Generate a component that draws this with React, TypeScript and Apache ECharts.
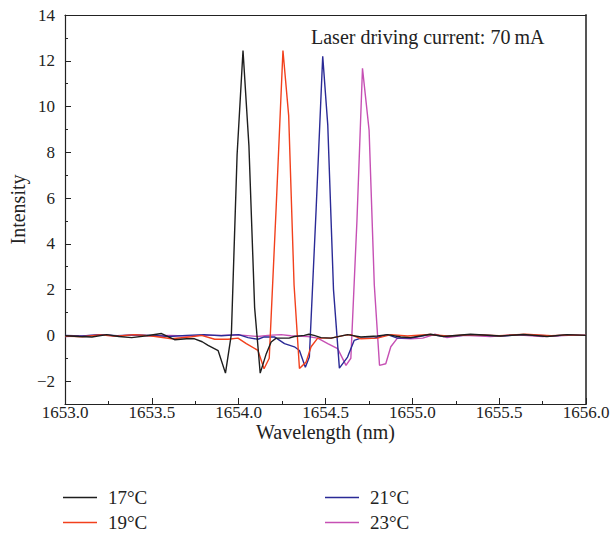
import React, { useEffect, useRef } from "react";
import * as echarts from "echarts";

const seriesNames = ["17°C", "19°C", "21°C", "23°C"];
const seriesColors = ["#1e1e1e", "#f2401c", "#2a2a96", "#c650b4"];

const s17: number[][] = [
  [1653.0, -0.02], [1653.08, -0.05], [1653.155, -0.07], [1653.24, 0.03], [1653.31, -0.05],
  [1653.384, -0.1], [1653.47, -0.02], [1653.556, 0.08], [1653.631, -0.19], [1653.7, -0.15],
  [1653.746, -0.15], [1653.79, -0.28], [1653.824, -0.44], [1653.882, -0.67], [1653.924, -1.65],
  [1653.958, 0.05], [1653.991, 7.9], [1654.025, 12.45], [1654.059, 8.3], [1654.092, 1.2],
  [1654.124, -1.65], [1654.159, -0.8], [1654.187, -0.29], [1654.216, -0.12], [1654.29, -0.12],
  [1654.321, -0.05], [1654.378, 0.0], [1654.405, 0.05], [1654.434, 0.0], [1654.474, -0.1],
  [1654.532, -0.12], [1654.627, 0.03], [1654.704, -0.07], [1654.799, -0.03], [1654.857, 0.03],
  [1654.933, -0.07], [1654.99, -0.1], [1655.105, 0.05], [1655.18, -0.05], [1655.335, 0.05],
  [1655.507, -0.03], [1655.639, 0.04], [1655.776, -0.05], [1655.891, 0.03], [1656.0, 0.0],
];

const s19: number[][] = [
  [1653.0, -0.03], [1653.1, -0.06], [1653.2, 0.02], [1653.3, -0.04], [1653.4, 0.03],
  [1653.5, -0.03], [1653.614, -0.15], [1653.729, -0.06], [1653.786, 0.0], [1653.862, -0.17],
  [1653.939, -0.17], [1653.996, -0.12], [1654.044, -0.36], [1654.111, -0.66], [1654.146, -1.46],
  [1654.176, -1.0], [1654.216, 5.6], [1654.255, 12.45], [1654.288, 9.6], [1654.319, 2.2],
  [1654.35, -1.45], [1654.388, -1.17], [1654.417, -0.5], [1654.455, -0.12], [1654.532, -0.12],
  [1654.608, 0.0], [1654.646, 0.03], [1654.704, -0.15], [1654.799, -0.12], [1654.876, 0.03],
  [1654.972, -0.03], [1655.1, 0.04], [1655.2, -0.03], [1655.35, 0.03], [1655.5, -0.02],
  [1655.65, 0.05], [1655.8, -0.02], [1655.9, 0.02], [1656.0, 0.0],
];

const s21: number[][] = [
  [1653.0, 0.0], [1653.1, -0.03], [1653.2, 0.03], [1653.3, -0.02], [1653.4, 0.02],
  [1653.5, 0.0], [1653.6, -0.05], [1653.7, 0.0], [1653.8, 0.03], [1653.9, -0.02],
  [1654.0, 0.03], [1654.054, -0.1], [1654.111, -0.17], [1654.147, -0.07], [1654.206, -0.07],
  [1654.264, -0.36], [1654.321, -0.5], [1654.35, -0.66], [1654.384, -1.39], [1654.407, -0.95],
  [1654.446, 5.5], [1654.484, 12.2], [1654.513, 9.2], [1654.546, 2.0], [1654.58, -1.43],
  [1654.627, -0.95], [1654.665, -0.22], [1654.704, -0.12], [1654.78, -0.12], [1654.857, 0.03],
  [1654.914, -0.12], [1654.99, -0.12], [1655.1, 0.03], [1655.2, -0.05], [1655.35, 0.03],
  [1655.5, -0.03], [1655.65, 0.03], [1655.8, -0.03], [1655.9, 0.02], [1656.0, 0.0],
];

const s23: number[][] = [
  [1653.0, -0.05], [1653.1, -0.03], [1653.2, 0.02], [1653.3, -0.03], [1653.4, 0.02],
  [1653.5, -0.03], [1653.6, 0.0], [1653.7, -0.03], [1653.8, 0.0], [1653.9, 0.0],
  [1654.0, 0.02], [1654.111, -0.05], [1654.168, 0.0], [1654.245, 0.03], [1654.3, -0.02],
  [1654.398, -0.05], [1654.455, -0.12], [1654.513, -0.36], [1654.57, -0.58], [1654.618, -1.31],
  [1654.646, -1.0], [1654.681, 5.0], [1654.713, 11.67], [1654.751, 8.97], [1654.781, 2.2],
  [1654.811, -1.31], [1654.847, -1.24], [1654.876, -0.5], [1654.914, -0.12], [1654.99, -0.15],
  [1655.06, -0.12], [1655.13, 0.05], [1655.2, -0.1], [1655.3, 0.0], [1655.45, -0.05],
  [1655.6, 0.02], [1655.75, -0.05], [1655.9, 0.0], [1656.0, 0.0],
];

const allSeries = [s17, s19, s21, s23];
const yMajorTicks = [-2, 0, 2, 4, 6, 8, 10, 12, 14];
const yMinorTicks = [-3, -1, 1, 3, 5, 7, 9, 11, 13];
const annotation = "Laser driving current: 70\u2009mA";

const FONT = "Liberation Serif";
const AXIS_COLOR = "#222";

const legendPos = [
  { left: 58, top: 483 },
  { left: 58, top: 508 },
  { left: 320, top: 483 },
  { left: 320, top: 508 },
];

export default function App() {
  const ref = useRef<HTMLDivElement>(null);
  useEffect(() => {
    if (!ref.current) return;
    const chart = echarts.init(ref.current, undefined, { renderer: "svg" });
    const fmtY = (v: number) => (v < 0 ? "\u2212" + Math.abs(v) : String(v));
    chart.setOption({
      animation: false,
      backgroundColor: "#fff",
      textStyle: { fontFamily: FONT },
      grid: { left: 63, right: 29, top: 15, bottom: 130, containLabel: false },
      xAxis: [
        {
          type: "value",
          min: 1653,
          max: 1656,
          interval: 0.5,
          name: "Wavelength (nm)",
          nameLocation: "middle",
          nameGap: 18,
          nameMoveOverlap: false,
          nameTextStyle: { fontFamily: FONT, fontSize: 20, color: "#222" },
          axisLine: { show: true, onZero: false, lineStyle: { color: AXIS_COLOR, width: 1.2 } },
          axisTick: { show: true, inside: true, length: 6, lineStyle: { color: AXIS_COLOR } },
          minorTick: { show: true, splitNumber: 2, length: 3, lineStyle: { color: AXIS_COLOR } },
          axisLabel: {
            fontFamily: FONT,
            fontSize: 17,
            color: "#222",
            margin: 0,
            formatter: (v: number) => v.toFixed(1),
          },
          splitLine: { show: false },
        },
        {
          type: "value",
          position: "top",
          min: 1653,
          max: 1656,
          axisLine: { show: true, onZero: false, lineStyle: { color: AXIS_COLOR, width: 1.2 } },
          axisTick: { show: false },
          axisLabel: { show: false },
          splitLine: { show: false },
        },
      ],
      yAxis: [
        {
          type: "value",
          min: -3,
          max: 14,
          interval: 1,
          name: "Intensity",
          nameLocation: "middle",
          nameGap: 37,
          nameMoveOverlap: false,
          nameTextStyle: { fontFamily: FONT, fontSize: 20, color: "#222" },
          axisLine: { show: true, onZero: false, lineStyle: { color: AXIS_COLOR, width: 1.2 } },
          axisTick: {
            show: true,
            inside: true,
            length: 6,
            customValues: yMajorTicks,
            lineStyle: { color: AXIS_COLOR },
          },
          axisLabel: {
            fontFamily: FONT,
            fontSize: 17,
            color: "#222",
            margin: 10,
            customValues: yMajorTicks,
            formatter: fmtY,
          },
          splitLine: { show: false },
        },
        {
          type: "value",
          position: "left",
          min: -3,
          max: 14,
          interval: 1,
          axisLine: { show: false },
          axisTick: {
            show: true,
            inside: true,
            length: 3,
            customValues: yMinorTicks,
            lineStyle: { color: AXIS_COLOR },
          },
          axisLabel: { show: false },
          splitLine: { show: false },
        },
        {
          type: "value",
          position: "right",
          min: -3,
          max: 14,
          axisLine: { show: true, onZero: false, lineStyle: { color: "#555", width: 2 } },
          axisTick: { show: false },
          axisLabel: { show: false },
          splitLine: { show: false },
        },
      ],
      legend: seriesNames.map((n, i) => ({
        data: [n],
        left: legendPos[i].left,
        top: legendPos[i].top,
        padding: 5,
        icon: "rect",
        itemWidth: 34,
        itemHeight: 1.5,
        textStyle: { fontFamily: FONT, fontSize: 19, color: "#222", padding: [0, 0, 0, 6] },
      })),
      graphic: [
        {
          type: "text",
          left: 311,
          top: 27,
          style: { text: annotation, fontFamily: FONT, fontSize: 20, fill: "#222" },
        },
      ],
      series: allSeries.map((d, i) => ({
        name: seriesNames[i],
        type: "line",
        data: d,
        xAxisIndex: 0,
        yAxisIndex: 0,
        symbol: "none",
        showSymbol: false,
        lineStyle: { color: seriesColors[i], width: 1.4 },
        itemStyle: { color: seriesColors[i] },
        z: 4 - i,
      })),
    });
    return () => chart.dispose();
  }, []);
  return (
    <div
      ref={ref}
      style={{ width: 615, height: 534, position: "absolute", left: 0, top: 0 }}
    />
  );
}
